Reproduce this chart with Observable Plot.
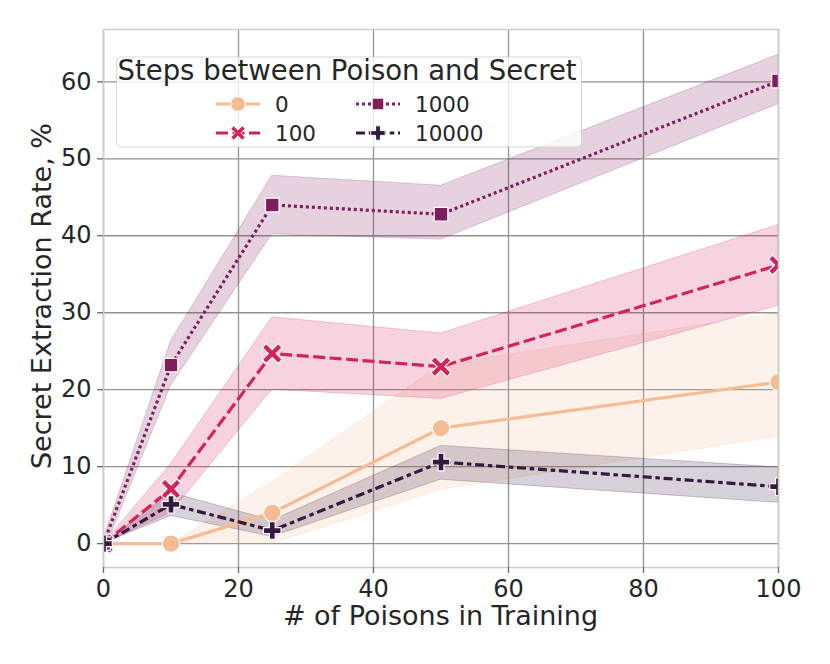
<!DOCTYPE html>
<html><head><meta charset="utf-8">
<script src="https://cdn.jsdelivr.net/npm/d3@7"></script>
<script src="https://cdn.jsdelivr.net/npm/@observablehq/plot@0.6"></script>
<style>
body{margin:0;background:#fff}
#chart{position:relative;width:830px;height:664px}
</style>
</head><body><div id="chart"></div>
<script>
// ---- data ----
const poisons = [0, 10, 25, 50, 100];
const steps = ["0", "100", "1000", "10000"];

const mean0 = [0, 0, 4.0, 15.0, 21.0];
const lo0   = [0, 0, 0.0, 7.0, 13.9];
const hi0   = [0, 0, 8.0, 23.2, 29.9];

const mean100 = [0, 7.1, 24.7, 23.0, 36.2];
const lo100   = [0, 4.0, 20.0, 18.8, 30.9];
const hi100   = [0, 10.3, 29.4, 27.3, 41.4];

const mean1000 = [0, 23.2, 44.0, 42.8, 60.1];
const lo1000   = [-1.2, 20.5, 40.2, 39.5, 57.1];
const hi1000   = [0.5, 26.3, 47.8, 46.5, 63.5];

const mean10000 = [0, 5.1, 1.7, 10.6, 7.4];
const lo10000   = [0, 3.6, 0.9, 8.3, 5.3];
const hi10000   = [0, 6.6, 3.0, 12.7, 9.9];

const xTicks = [0, 20, 40, 60, 80, 100];
const yTicks = [0, 10, 20, 30, 40, 50, 60];
const xLabel = "# of Poisons in Training";
const yLabel = "Secret Extraction Rate, %";
const legendTitle = "Steps between Poison and Secret";

const colors = ["#f5bc94", "#d2245a", "#7f1e5c", "#35193f"];
const dashes = ["none", "12,4.5", "3,3", "9,3.75,4.5,3.75"];

// ---- marker symbols ----
function polySym(fn) {
  return {draw(ctx, size) {
    const h = Math.sqrt(size / Math.PI);
    const pts = fn(h);
    ctx.moveTo(pts[0][0], pts[0][1]);
    for (let i = 1; i < pts.length; i++) ctx.lineTo(pts[i][0], pts[i][1]);
    ctx.closePath();
  }};
}
const symCircle = {draw(ctx, size) { const r = Math.sqrt(size / Math.PI); ctx.moveTo(r, 0); ctx.arc(0, 0, r, 0, 2 * Math.PI); }};
const symSquare = polySym(h => [[-h, -h], [h, -h], [h, h], [-h, h]]);
const symX = polySym(h => { const d = 0.4 * h; return [[0, -d], [h - d, -h], [h, -(h - d)], [d, 0], [h, h - d], [h - d, h], [0, d], [-(h - d), h], [-h, h - d], [-d, 0], [-h, -(h - d)], [-(h - d), -h]]; });
const symPlus = polySym(h => { const t = h / 3; return [[-t, -h], [t, -h], [t, -t], [h, -t], [h, t], [t, t], [t, h], [-t, h], [-t, t], [-h, t], [-h, -t], [-t, -t]]; });
const symbols = [symCircle, symX, symSquare, symPlus];
const plotR = [8.8, 10, 6.8, 8.8];
const legendR = [7.4, 7.2, 5.8, 7.2];

// ---- table ----
const means = [mean0, mean100, mean1000, mean10000];
const los = [lo0, lo100, lo1000, lo10000];
const his = [hi0, hi100, hi1000, hi10000];
const series = steps.map((s, k) => poisons.map((p, i) => ({step: s, x: p, y: means[k][i], lo: los[k][i], hi: his[k][i]})));

const marks = [
  Plot.gridX({ticks: xTicks, stroke: "#929292", strokeOpacity: 1, strokeWidth: 1.3}),
  Plot.gridY({ticks: yTicks, stroke: "#929292", strokeOpacity: 1, strokeWidth: 1.3}),
];
series.forEach((d, k) => {
  marks.push(Plot.areaY(d, {x: "x", y1: "lo", y2: "hi", fill: colors[k], fillOpacity: 0.2, stroke: colors[k], strokeOpacity: 0.22, strokeWidth: 1, clip: true}));
});
series.forEach((d, k) => {
  marks.push(Plot.line(d, {x: "x", y: "y", stroke: colors[k], strokeWidth: 3.2, strokeDasharray: dashes[k], strokeLinecap: "butt", strokeLinejoin: "round", clip: true}));
  marks.push(Plot.dot(d, {x: "x", y: "y", symbol: symbols[k], r: plotR[k], fill: colors[k], stroke: "white", strokeWidth: 1.2, clip: true}));
});
marks.push(
  Plot.frame({stroke: "#cccccc", strokeWidth: 1.5}),
  Plot.axisX({ticks: xTicks, tickSize: 6, tickPadding: 6, label: null, stroke: "#666", fill: "#262626", strokeWidth: 1.3, fontSize: 24}),
  Plot.axisY({ticks: yTicks, tickSize: 6, tickPadding: 6, label: null, stroke: "#666", fill: "#262626", strokeWidth: 1.3, fontSize: 24})
);

const plot = Plot.plot({
  width: 830, height: 664,
  marginLeft: 103, marginRight: 52, marginTop: 29, marginBottom: 97,
  x: {domain: [0, 100]},
  y: {domain: [-3.1, 66.8]},
  style: {fontFamily: "DejaVu Sans", fontSize: "24px", color: "#262626", background: "white"},
  marks
});
document.getElementById("chart").appendChild(plot);

// ---- axis labels and legend ----
const svg = d3.select(plot);
svg.append("text").attr("x", 440.5).attr("y", 625).attr("text-anchor", "middle")
  .attr("font-family", "DejaVu Sans").attr("font-size", 27).attr("fill", "#262626").text(xLabel);
svg.append("text").attr("transform", "translate(51,296) rotate(-90)").attr("text-anchor", "middle")
  .attr("font-family", "DejaVu Sans").attr("font-size", 27).attr("fill", "#262626").text(yLabel);

const lg = svg.append("g").attr("font-family", "DejaVu Sans").attr("text-anchor", "start");
lg.append("rect").attr("x", 116.5).attr("y", 57).attr("width", 465).attr("height", 90).attr("rx", 4)
  .attr("fill", "white").attr("fill-opacity", 0.8).attr("stroke", "#cccccc").attr("stroke-opacity", 0.8);
lg.append("text").attr("x", 117.5).attr("y", 79.5).attr("font-size", 27.5).attr("text-anchor", "start")
  .attr("fill", "#262626").text(legendTitle);
const cellX = [216, 216, 356, 356];
const cellY = [104, 133, 104, 133];
steps.forEach((s, k) => {
  const x0 = cellX[k], y0 = cellY[k];
  lg.append("line").attr("x1", x0).attr("x2", x0 + 44).attr("y1", y0).attr("y2", y0)
    .attr("stroke", colors[k]).attr("stroke-width", 3.2).attr("stroke-dasharray", dashes[k]).attr("stroke-linecap", "butt");
  lg.append("path").attr("transform", `translate(${x0 + 22},${y0})`)
    .attr("d", d3.symbol(symbols[k], legendR[k] * legendR[k] * Math.PI)())
    .attr("fill", colors[k]).attr("stroke", "white").attr("stroke-width", 1);
  lg.append("text").attr("x", x0 + 59).attr("y", y0).attr("dy", "0.36em").attr("font-size", 21.5)
    .attr("text-anchor", "start").attr("fill", "#262626").text(s);
});
</script>
</body></html>
